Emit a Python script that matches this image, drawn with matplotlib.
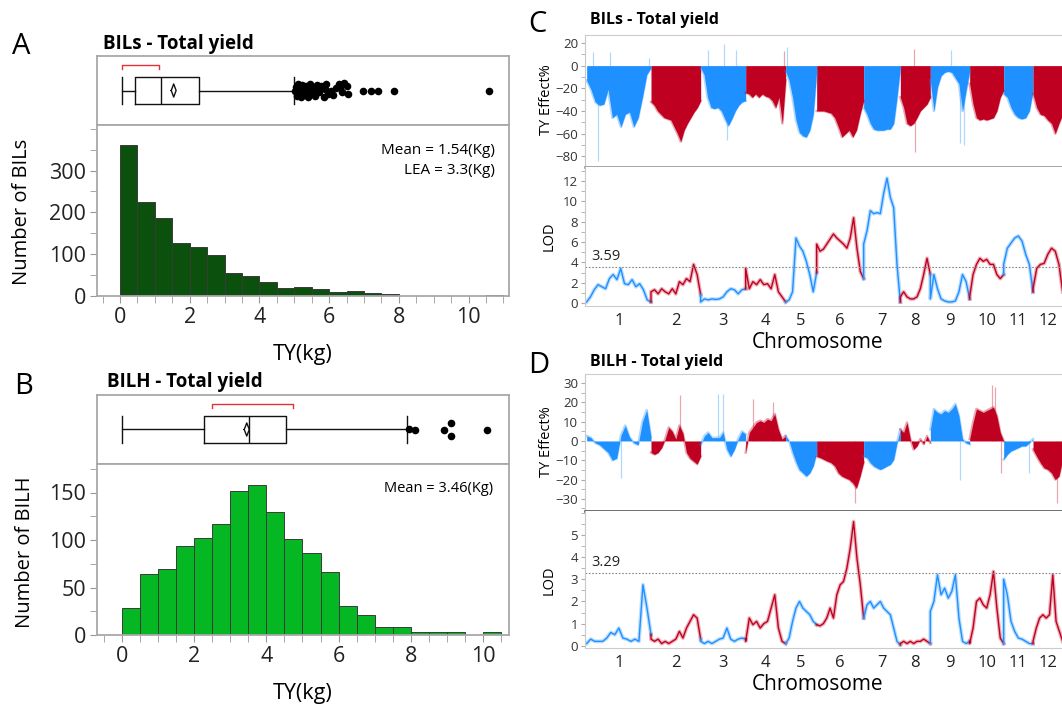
import numpy as np
import matplotlib.pyplot as plt
from matplotlib.ticker import MultipleLocator, FixedLocator

plt.rcParams["font.family"] = ["Open Sans", "DejaVu Sans"]

# =======================================
# Panels A / B : total yield distributions
# =======================================
bin_width = 0.5
bils_counts = [361, 225, 186, 126, 118, 97, 54, 47, 33, 19, 22, 16, 9, 11, 8, 4,
               0, 0, 0, 0, 0, 3]
bilh_counts = [28, 64, 69, 94, 102, 117, 152, 158, 130, 101, 86, 66, 31, 21, 8, 8,
               3, 3, 3, 0, 3]

# whisker low, Q1, median, Q3, whisker high
bils_box = [0.05, 0.43, 1.18, 2.28, 5.0]
bilh_box = [0.0, 2.27, 3.52, 4.55, 7.89]
bils_mean = 1.54
bilh_mean = 3.46
bils_lea = 3.3
bils_shortest_half = [0.06, 1.13]
bilh_shortest_half = [2.50, 4.75]

bils_outliers = [5.02, 5.05, 5.08, 5.1, 5.13, 5.16, 5.2, 5.23, 5.27, 5.3,
                 5.34, 5.38, 5.42, 5.46, 5.5, 5.55, 5.6, 5.64, 5.68, 5.72,
                 5.78, 5.84, 5.88, 5.92, 5.98, 6.05, 6.1, 6.2, 6.28, 6.32,
                 6.36, 6.42, 6.5, 6.55, 6.96, 7.2, 7.4, 7.85, 10.58]
bils_jitter = [0, 0.1, -0.15, 0.18, -0.05, 0.08, -0.18, 0.15, 0.02, -0.1,
               0.12, -0.2, 0.05, 0.2, -0.08, 0.1, -0.15, 0.15, 0.0, -0.05,
               0.12, -0.18, 0.05, 0.18, -0.1, 0.0, -0.12, 0.08, 0.2, 0.1,
               -0.05, 0.22, 0.12, -0.1, -0.02, 0.0, 0.0, 0.0, 0.0]
bilh_outliers = [7.95, 8.1, 8.9, 9.12, 9.12, 10.1]
bilh_jitter = [0.0, -0.02, -0.02, 0.2, -0.2, -0.02]

# =======================================
# Panels C / D : QTL scan along 12 chromosomes
# =======================================
chr_len = [193, 149, 135, 120, 93, 141, 110, 90, 118, 102, 88, 89]
chr_names = [str(i) for i in range(1, 13)]

bils_effect = [
    [-13, -21, -32, -35, -34, -21, -46, -43, -54, -43, -41, -54, -46, -28, -8, -2],
    [-32, -35, -40, -43, -46, -47, -48, -54, -60, -67, -57, -51, -46, -41, -37, -31],
    [-2, -8, -28, -37, -38, -37, -40, -47, -53, -47, -40, -35, -32, -31],
    [-24, -25, -28, -25, -28, -25, -27, -28, -31, -37, -28, -51, -13],
    [-5, -13, -28, -48, -59, -62, -63, -57, -43, -5],
    [-40, -40, -40, -41, -42, -46, -54, -63, -60, -57, -63, -57, -43, -31],
    [-37, -43, -51, -56, -57, -57, -57, -56, -56, -51, -28, -2],
    [-28, -37, -51, -53, -51, -46, -40, -37, -34, -28],
    [-13, -40, -19, -9, -6, -5, -6, -11, -16, -40, -22, -5],
    [-16, -34, -46, -48, -47, -48, -47, -46, -40, -28, -22],
    [-25, -28, -37, -43, -46, -47, -46, -40, -22],
    [-25, -37, -43, -44, -48, -51, -60, -51, -43],
]
bils_spike_pos = [35, 18, 70, 188, 363, 413, 448, 420, 592, 600, 981, 986, 1094, 1119, 1131]
bils_spike_val = [-84, 12, 12, 7, 14, 19, 14, -66, 13, 16, 15, -76, 14, -68, -70]

bils_lod = [
    [0.1, 0.6, 1.3, 1.8, 1.6, 1.4, 2.4, 2.8, 2.3, 3.4, 1.9, 1.8, 2.3, 1.6, 1.9, 1.3, 0.3, 0.1],
    [1.1, 1.3, 0.9, 1.4, 1.1, 0.9, 1.4, 0.9, 2.1, 1.8, 2.4, 2.1, 3.8, 2.8, 0.8],
    [0.1, 0.4, 0.3, 0.4, 0.35, 0.4, 0.6, 1.1, 1.4, 1.3, 0.9, 1.3, 1.4],
    [3.4, 1.4, 2.1, 1.8, 2.3, 1.8, 1.9, 1.4, 2.8, 1.1, 0.6, 0.1],
    [0.1, 0.3, 1.1, 6.4, 5.6, 5.1, 4.1, 2.8, 1.1, 3.0],
    [5.8, 5.1, 5.3, 5.8, 6.3, 6.8, 6.4, 6.1, 5.8, 5.4, 6.4, 8.4, 5.4, 3.1, 2.4],
    [5.8, 7.1, 9.1, 8.8, 8.9, 8.8, 10.8, 12.3, 10.4, 9.4, 3.8, 0.1],
    [0.6, 1.1, 0.6, 0.4, 0.4, 0.6, 1.4, 2.8, 4.4, 2.8],
    [0.4, 2.8, 1.4, 0.4, 0.2, 0.1, 0.1, 0.2, 1.1, 2.8, 2.1, 0.4],
    [0.6, 2.8, 3.8, 4.4, 4.1, 4.3, 3.8, 3.8, 2.8, 2.4, 2.8],
    [3.8, 5.4, 5.9, 6.4, 6.6, 6.1, 4.8, 3.8, 1.1],
    [1.4, 3.4, 3.8, 3.9, 4.8, 5.4, 5.1, 3.8, 1.1],
]
bils_threshold = 3.59

bilh_effect = [
    [2.6, 1.7, -1, -2, -4, -6, -10, -9, 3, 8, 2, -1, -2, 10, 16, 2],
    [-6, -7, -6, -3.5, 1, 7, 5, 1, 8, 4, -6, -9, -10.5, -12, -8],
    [-2, 2.6, 4.4, 1.7, 1.7, 1.7, 4.4, -4.4, -8, -4.4, 1, 5, 3.5],
    [-6, 4.4, 7, 9.6, 10.5, 9.6, 11.3, 10.5, 14, 6, 1, 2.6],
    [2.6, 0, -6, -11, -15, -16.6, -18.3, -16.6, -13, -6],
    [-8, -8.7, -9.6, -10.5, -11.3, -13, -16.6, -18.3, -19.2, -20, -21.8, -24.4, -18.3, -11],
    [-8, -8.7, -11.3, -13, -14, -14.8, -14, -13, -12.2, -9.6, -1, 6],
    [6, 4.4, 9.6, 1, -4.4, -2.6, 1, -1.7, 2.6, -1],
    [6, 16.6, 14.8, 14, 15.7, 14.8, 16.6, 19.2, 13, 1, -1, -1.7],
    [1, 9.6, 16.6, 15.7, 14.8, 15.7, 16.6, 17.5, 13, 4.4, 0],
    [-9.6, -7, -5.2, -4.4, -3.5, -2.6, -2.6, -1, 1],
    [-4.4, -8, -11.3, -14, -14.8, -16.6, -20, -18.3, -9.6],
]
bilh_spike_pos = [280, 395, 410, 500, 560, 103, 1216, 1224, 806, 1410, 1119, 1326, 1242]
bilh_spike_val = [23.6, 24.4, 24.4, 22, 20, -19, 29, 28, -32, -32, -20, -16.6, -16.6]

bilh_lod = [
    [0.1, 0.3, 0.2, 0.2, 0.2, 0.35, 0.6, 0.5, 0.8, 0.35, 0.3, 0.2, 0.3, 0.2, 2.75, 1.7, 0.5],
    [0.3, 0.2, 0.3, 0.1, 0.2, 0.1, 0.2, 0.3, 0.65, 0.35, 0.8, 1.1, 1.4, 1.25, 0.3],
    [0.2, 0.1, 0.2, 0.1, 0.2, 0.3, 0.35, 0.8, 0.3, 0.2, 0.3, 0.35, 0.3],
    [0.2, 1.25, 0.95, 1.1, 0.8, 1.0, 1.1, 1.7, 2.3, 0.8, 0.2, 0.1],
    [0.1, 0.35, 1.1, 1.7, 2.0, 1.7, 1.55, 1.4, 1.1, 0.95],
    [0.95, 0.9, 1.0, 1.25, 1.7, 1.25, 2.3, 2.75, 2.9, 3.5, 4.4, 5.6, 3.95, 2.75, 1.25],
    [1.25, 1.85, 2.0, 1.7, 1.85, 2.0, 1.7, 1.55, 1.4, 0.8, 0.2, 0.05],
    [0.1, 0.2, 0.1, 0.2, 0.1, 0.2, 0.2, 0.3, 0.2, 0.1],
    [1.55, 2.0, 3.2, 2.3, 2.6, 2.15, 2.45, 3.2, 1.25, 0.2, 0.1, 0.2],
    [0.1, 0.8, 2.0, 2.15, 1.85, 1.7, 2.3, 3.35, 1.7, 0.35, 0.1],
    [3.0, 2.3, 1.1, 0.65, 0.35, 0.3, 0.2, 0.1, 0.1],
    [0.2, 0.8, 1.25, 1.4, 1.25, 1.4, 3.2, 1.1, 0.65, 0.2],
]
bilh_threshold = 3.29

BLUE = "#1e90ff"
RED = "#c00020"
FRAME = "#a8a8a8"

W, H = 1062, 708
fig = plt.figure(figsize=(W / 100, H / 100), dpi=100)


def px_box(left, top, right, bottom):
    return [left / W, 1 - bottom / H, (right - left) / W, (bottom - top) / H]


def ftext(x, y, s, **kw):
    fig.text(x / W, 1 - y / H, s, **kw)


# --- histogram + box plot panel ---
def dist_panel(top, counts, color, box, mean, short_half, outl, jit, xlim, ylim,
               ymajor, yminor, half):
    ax_b = fig.add_axes(px_box(97, top, 509, top + 69))
    ax_h = fig.add_axes(px_box(97, top + 69, 509, top + 240))

    stats = [dict(whislo=box[0], q1=box[1], med=box[2], q3=box[3], whishi=box[4], fliers=[])]
    lp = dict(color="#111111", lw=1.0)
    ax_b.bxp(stats, positions=[0], widths=2 * half, capwidths=2 * half,
             orientation="horizontal", showfliers=False, patch_artist=False,
             boxprops=lp, whiskerprops=lp, capprops=lp, medianprops=lp)
    dw, dh = 0.07, 0.19
    ax_b.plot([mean - dw, mean, mean + dw, mean, mean - dw], [0, dh, 0, -dh, 0],
              color="#111111", lw=1.0)
    ax_b.scatter(outl, jit, s=30, color="black", zorder=3, lw=0)
    ax_b.plot([short_half[0], short_half[0], short_half[1], short_half[1]],
              [0.62, 0.74, 0.74, 0.62], color="#e8303a", lw=1.0)
    ax_b.set_xlim(*xlim)
    ax_b.set_ylim(-1, 1)
    ax_b.set_xticks([])
    ax_b.set_yticks([])
    for s in ax_b.spines.values():
        s.set_color(FRAME)
        s.set_linewidth(1.3)

    edges = np.arange(len(counts)) * bin_width
    ax_h.bar(edges, counts, width=bin_width, align="edge", color=color,
             edgecolor="#3a3a3a", linewidth=0.7)
    ax_h.set_xlim(*xlim)
    ax_h.set_ylim(*ylim)
    ax_h.xaxis.set_major_locator(MultipleLocator(2))
    ax_h.xaxis.set_minor_locator(MultipleLocator(0.5))
    ax_h.yaxis.set_major_locator(FixedLocator(ymajor))
    ax_h.yaxis.set_minor_locator(MultipleLocator(yminor))
    ax_h.tick_params(which="both", direction="out", length=5, color="#999999",
                     labelsize=15.5, labelcolor="#222222", pad=3)
    for s in ax_h.spines.values():
        s.set_color(FRAME)
        s.set_linewidth(1.3)
    return ax_b, ax_h


dist_panel(56, bils_counts, "#0b500d", bils_box, bils_mean, bils_shortest_half,
           bils_outliers, bils_jitter, (-0.66, 11.16), (0, 409), [0, 100, 200, 300], 50, 0.39)
dist_panel(395, bilh_counts, "#05b823", bilh_box, bilh_mean, bilh_shortest_half,
           bilh_outliers, bilh_jitter, (-0.68, 10.71), (0, 180), [0, 50, 100, 150], 25, 0.38)

ftext(12, 47, "A", fontsize=21, va="center", ha="left")
ftext(103, 44, "BILs - Total yield", fontsize=13.5, fontweight="bold", va="center")
ftext(495, 150, f"Mean = {bils_mean:.2f}(Kg)", fontsize=11, ha="right", va="center")
ftext(495, 171, f"LEA = {bils_lea}(Kg)", fontsize=11, ha="right", va="center")
ftext(22, 212, "Number of BILs", fontsize=14.5, rotation=90, ha="center", va="center")
ftext(303, 355, "TY(kg)", fontsize=15.5, ha="center", va="center")

ftext(14, 386, "B", fontsize=21, va="center", ha="left")
ftext(107, 382, "BILH - Total yield", fontsize=13.5, fontweight="bold", va="center")
ftext(493, 488, f"Mean = {bilh_mean:.2f}(Kg)", fontsize=10.5, ha="right", va="center")
ftext(25, 552, "Number of BILH", fontsize=14.5, rotation=90, ha="center", va="center")
ftext(303, 693, "TY(kg)", fontsize=15.5, ha="center", va="center")

# --- genome scan panels ---
starts = np.concatenate([[0], np.cumsum(chr_len)[:-1]])
ends = np.cumsum(chr_len)
centers = starts + np.array(chr_len) / 2
GX = (-5, 1426)


def genome_panel(top, mid, bottom, effect, spike_pos, spike_val, lod, thr,
                 eff_lim, eff_major, eff_minor, lod_lim, lod_ticks, lod_minor,
                 divider_color):
    ax_e = fig.add_axes(px_box(585, top, 1062, mid))
    ax_l = fig.add_axes(px_box(585, mid, 1062, bottom))

    for i, L in enumerate(chr_len):
        col = BLUE if i % 2 == 0 else RED
        xe = np.linspace(starts[i], starts[i] + L, len(effect[i]))
        ax_e.fill_between(xe, 0, effect[i], color=col, lw=0)
        ax_e.plot(xe, effect[i], color=col, lw=1.8, alpha=0.35)
        xl = np.linspace(starts[i], starts[i] + L, len(lod[i]))
        yl = np.asarray(lod[i], dtype=float)
        if i > 0:
            # join the trace to the end of the previous chromosome
            xl = np.concatenate([[starts[i]], xl])
            yl = np.concatenate([[lod[i - 1][-1]], yl])
        ax_l.plot(xl, yl, color=col, lw=2.8, alpha=0.3)
        ax_l.plot(xl, yl, color=col, lw=1.0)

    for p, v in zip(spike_pos, spike_val):
        i = int(np.searchsorted(ends, p, side="right"))
        col = BLUE if i % 2 == 0 else RED
        ax_e.vlines(p, 0, v, color=col, lw=0.9, alpha=0.35)

    ax_l.axhline(thr, color="#888888", lw=0.8, ls=(0, (1.5, 1.5)))
    ax_l.text(15, thr + 0.25 * (lod_lim[1] - lod_lim[0]) / 13.7, f"{thr:.2f}",
              fontsize=10.5, color="#222222", va="bottom", ha="left")

    for ax in (ax_e, ax_l):
        ax.set_xlim(*GX)
        ax.spines["right"].set_visible(False)
        ax.spines["left"].set_color("#c8c8c8")
        ax.tick_params(axis="y", which="both", direction="out", length=3,
                       color="#aaaaaa", labelsize=9.5, labelcolor="#333333", pad=2)
    ax_e.set_ylim(*eff_lim)
    ax_e.yaxis.set_major_locator(MultipleLocator(eff_major))
    ax_e.yaxis.set_minor_locator(MultipleLocator(eff_minor))
    ax_e.set_xticks([])
    ax_e.spines["top"].set_color("#cccccc")
    ax_e.spines["bottom"].set_color(divider_color)
    ax_e.spines["bottom"].set_linewidth(1.8)

    ax_l.set_ylim(*lod_lim)
    ax_l.yaxis.set_major_locator(FixedLocator(lod_ticks))
    ax_l.yaxis.set_minor_locator(MultipleLocator(lod_minor))
    ax_l.spines["top"].set_visible(False)
    ax_l.spines["bottom"].set_color("#cccccc")
    ax_l.set_xticks(centers)
    ax_l.set_xticklabels(chr_names)
    ax_l.tick_params(axis="x", length=0, labelsize=12, labelcolor="#222222", pad=5)
    return ax_e, ax_l


genome_panel(35, 167, 306, bils_effect, bils_spike_pos, bils_spike_val, bils_lod,
             bils_threshold, (-89.4, 27), 20, 10, (-0.3, 13.4),
             [0, 2, 4, 6, 8, 10, 12], 1, "#8a8a8a")
genome_panel(374, 511, 648, bilh_effect, bilh_spike_pos, bilh_spike_val, bilh_lod,
             bilh_threshold, (-36.3, 34.7), 10, 5, (-0.1, 6.08),
             [0, 1, 2, 3, 4, 5], 0.5, "#444444")

ftext(528, 24, "C", fontsize=21, va="center", ha="left")
ftext(590, 20, "BILs - Total yield", fontsize=11.5, fontweight="bold", va="center")
ftext(547, 100, "TY Effect%", fontsize=10.5, rotation=90, ha="center", va="center")
ftext(549, 236, "LOD", fontsize=10.5, rotation=90, ha="center", va="center")
ftext(818, 343, "Chromosome", fontsize=15, ha="center", va="center")

ftext(528, 366, "D", fontsize=21, va="center", ha="left")
ftext(590, 362, "BILH - Total yield", fontsize=11.5, fontweight="bold", va="center")
ftext(547, 442, "TY Effect%", fontsize=10.5, rotation=90, ha="center", va="center")
ftext(549, 580, "LOD", fontsize=10.5, rotation=90, ha="center", va="center")
ftext(818, 685, "Chromosome", fontsize=15, ha="center", va="center")

fig.savefig("out.png", dpi=100)
